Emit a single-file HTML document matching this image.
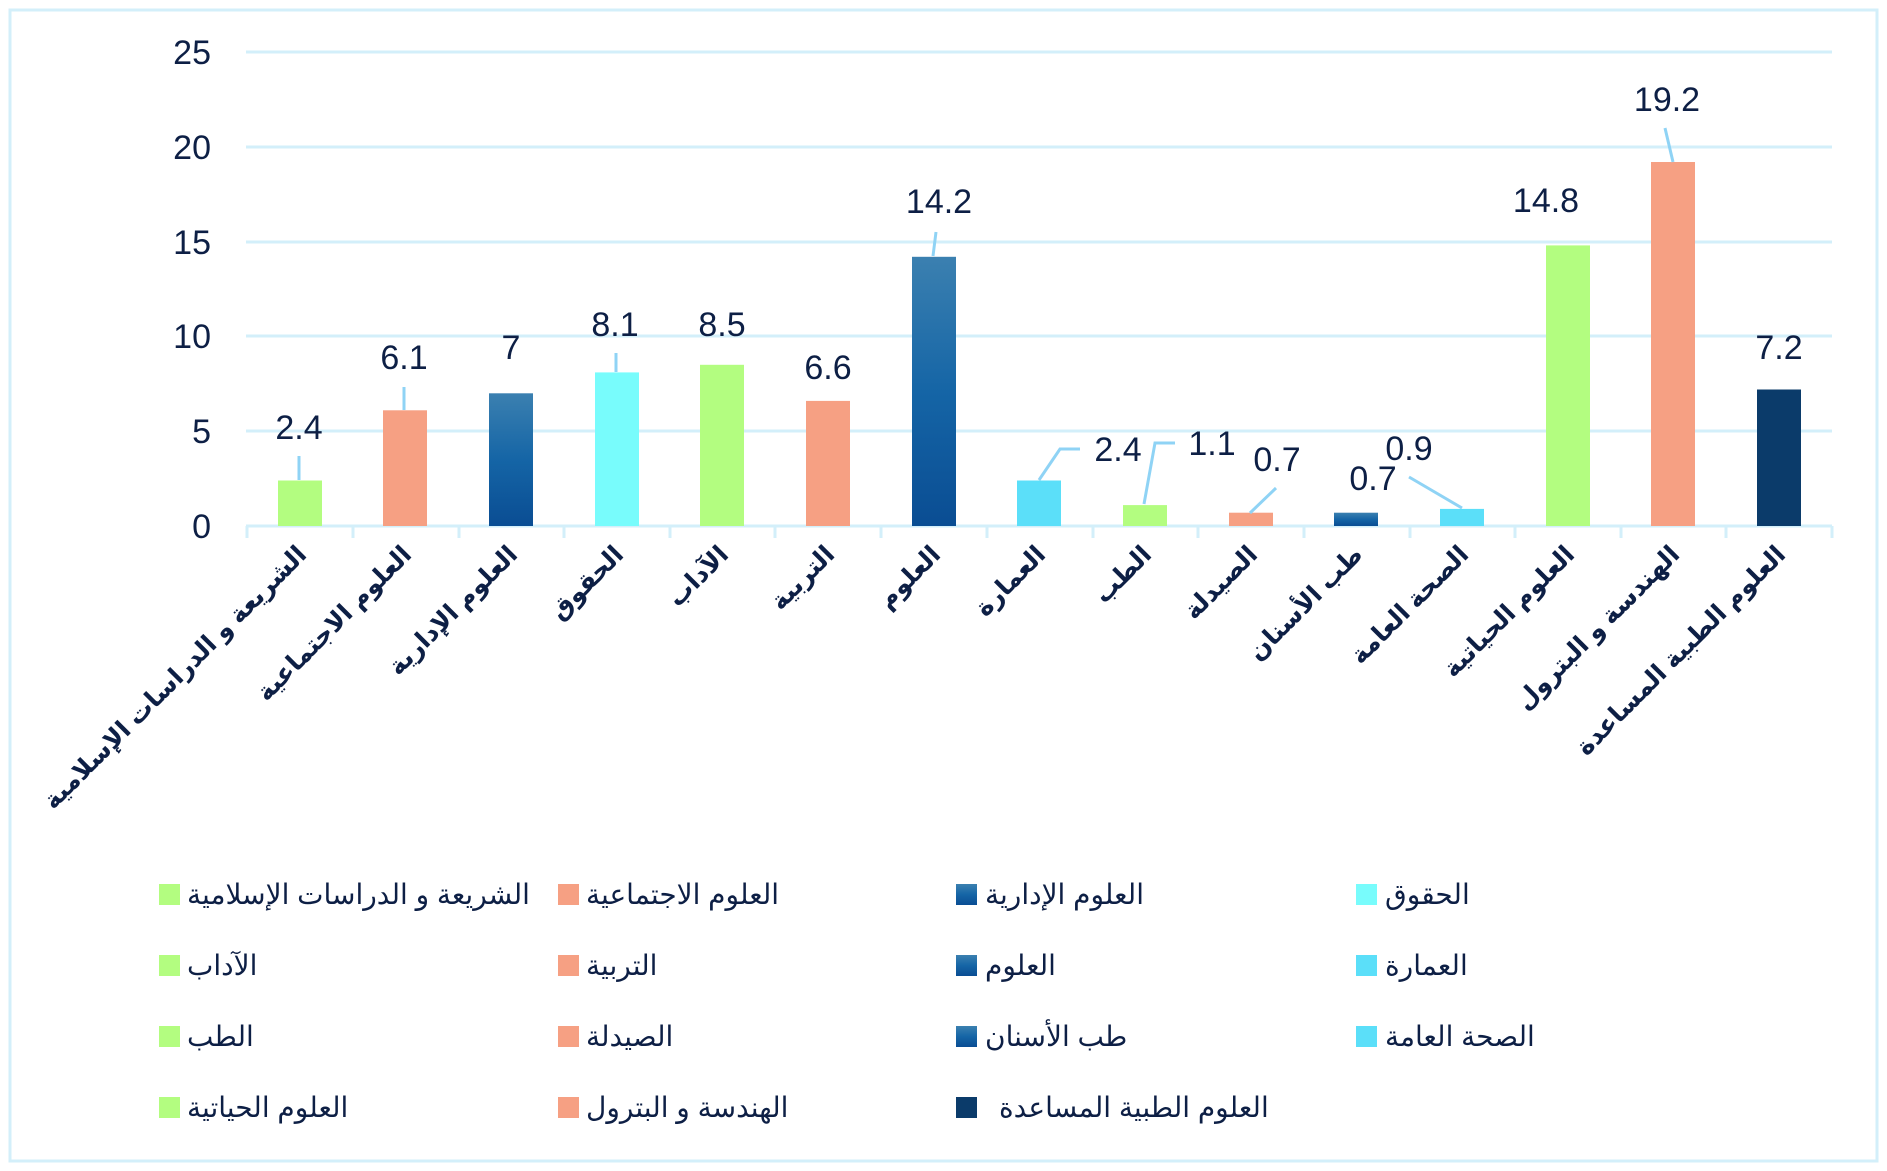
<!DOCTYPE html>
<html><head><meta charset="utf-8"><style>
html,body{margin:0;padding:0;background:#fff;}
svg{display:block;}
text{font-family:"Liberation Sans","DejaVu Sans",sans-serif;fill:#0d1f45;}
</style></head><body>
<svg width="1887" height="1171" viewBox="0 0 1887 1171" xmlns="http://www.w3.org/2000/svg">
<defs>
<linearGradient id="bg" x1="0" y1="0" x2="0" y2="1"><stop offset="0" stop-color="#3b80b0"/><stop offset="0.5" stop-color="#1565a6"/><stop offset="1" stop-color="#0a4d93"/></linearGradient>
</defs>
<rect x="10" y="10" width="1867" height="1151" fill="#fff" stroke="#d3effa" stroke-width="3"/>
<g stroke="#d3effa" stroke-width="3">
<line x1="246" y1="52" x2="1832" y2="52"/>
<line x1="246" y1="147" x2="1832" y2="147"/>
<line x1="246" y1="242" x2="1832" y2="242"/>
<line x1="246" y1="336" x2="1832" y2="336"/>
<line x1="246" y1="431" x2="1832" y2="431"/>
<line x1="246" y1="526" x2="1832" y2="526"/>
<line x1="247" y1="526" x2="247" y2="538"/><line x1="353" y1="526" x2="353" y2="538"/><line x1="459" y1="526" x2="459" y2="538"/><line x1="564" y1="526" x2="564" y2="538"/><line x1="670" y1="526" x2="670" y2="538"/><line x1="775" y1="526" x2="775" y2="538"/><line x1="881" y1="526" x2="881" y2="538"/><line x1="987" y1="526" x2="987" y2="538"/><line x1="1093" y1="526" x2="1093" y2="538"/><line x1="1198" y1="526" x2="1198" y2="538"/><line x1="1304" y1="526" x2="1304" y2="538"/><line x1="1410" y1="526" x2="1410" y2="538"/><line x1="1515" y1="526" x2="1515" y2="538"/><line x1="1621" y1="526" x2="1621" y2="538"/><line x1="1726" y1="526" x2="1726" y2="538"/><line x1="1832" y1="526" x2="1832" y2="538"/>
</g>
<g font-size="34" text-anchor="end">
<text x="211" y="64">25</text><text x="211" y="159">20</text><text x="211" y="254">15</text><text x="211" y="348">10</text><text x="211" y="443">5</text><text x="211" y="538">0</text>
</g>
<rect x="278" y="480.5" width="44" height="45.5" fill="#b3fd80"/>
<rect x="383" y="410.3" width="44" height="115.7" fill="#f6a083"/>
<rect x="489" y="393.3" width="44" height="132.7" fill="url(#bg)"/>
<rect x="595" y="372.4" width="44" height="153.6" fill="#78fcfc"/>
<rect x="700" y="364.8" width="44" height="161.2" fill="#b3fd80"/>
<rect x="806" y="400.9" width="44" height="125.1" fill="#f6a083"/>
<rect x="912" y="256.8" width="44" height="269.2" fill="url(#bg)"/>
<rect x="1017" y="480.5" width="44" height="45.5" fill="#5bdff9"/>
<rect x="1123" y="505.1" width="44" height="20.9" fill="#b3fd80"/>
<rect x="1229" y="512.7" width="44" height="13.3" fill="#f6a083"/>
<rect x="1334" y="512.7" width="44" height="13.3" fill="url(#bg)"/>
<rect x="1440" y="508.9" width="44" height="17.1" fill="#5bdff9"/>
<rect x="1546" y="245.4" width="44" height="280.6" fill="#b3fd80"/>
<rect x="1651" y="162" width="44" height="364" fill="#f6a083"/>
<rect x="1757" y="389.5" width="44" height="136.5" fill="#0b3b6a"/>
<g stroke="#8fd3f5" stroke-width="3" fill="none">
<line x1="299" y1="456" x2="299" y2="480"/>
<line x1="404" y1="387" x2="404" y2="410"/>
<line x1="616" y1="353" x2="616" y2="372"/>
<line x1="936" y1="232" x2="933" y2="256"/>
<polyline points="1039,480 1060,449 1080,449"/>
<polyline points="1144,504 1155,443 1175,443"/>
<line x1="1250" y1="513" x2="1276" y2="488"/>
<line x1="1409" y1="477" x2="1462" y2="508"/>
<line x1="1665" y1="128" x2="1673" y2="162"/>
</g>
<g font-size="34" text-anchor="middle" dominant-baseline="central">
<text x="299" y="428">2.4</text>
<text x="404" y="358">6.1</text>
<text x="511" y="348">7</text>
<text x="615" y="325">8.1</text>
<text x="722" y="325">8.5</text>
<text x="828" y="368">6.6</text>
<text x="939" y="202">14.2</text>
<text x="1118" y="450">2.4</text>
<text x="1212" y="444">1.1</text>
<text x="1277" y="460">0.7</text>
<text x="1373" y="479">0.7</text>
<text x="1409" y="449">0.9</text>
<text x="1546" y="201">14.8</text>
<text x="1667" y="100">19.2</text>
<text x="1779" y="348">7.2</text>
</g>
<g font-size="25" font-weight="bold" text-anchor="end">
<text transform="translate(308,556) rotate(-45)">الشريعة و الدراسات الإسلامية</text>
<text transform="translate(413,556) rotate(-45)">العلوم الاجتماعية</text>
<text transform="translate(519,556) rotate(-45)">العلوم الإدارية</text>
<text transform="translate(625,556) rotate(-45)">الحقوق</text>
<text transform="translate(730,556) rotate(-45)">الآداب</text>
<text transform="translate(836,556) rotate(-45)">التربية</text>
<text transform="translate(942,556) rotate(-45)">العلوم</text>
<text transform="translate(1047,556) rotate(-45)">العمارة</text>
<text transform="translate(1153,556) rotate(-45)">الطب</text>
<text transform="translate(1259,556) rotate(-45)">الصيدلة</text>
<text transform="translate(1364,556) rotate(-45)">طب الأسنان</text>
<text transform="translate(1470,556) rotate(-45)">الصحة العامة</text>
<text transform="translate(1576,556) rotate(-45)">العلوم الحياتية</text>
<text transform="translate(1681,556) rotate(-45)">الهندسة و البترول</text>
<text transform="translate(1787,556) rotate(-45)">العلوم الطبية المساعدة</text>
</g>
<g>
<rect x="159" y="884" width="21" height="21" fill="#b3fd80"/><rect x="558" y="884" width="21" height="21" fill="#f6a083"/><rect x="956" y="884" width="21" height="21" fill="url(#bg)"/><rect x="1356" y="884" width="21" height="21" fill="#78fcfc"/>
<rect x="159" y="955" width="21" height="21" fill="#b3fd80"/><rect x="558" y="955" width="21" height="21" fill="#f6a083"/><rect x="956" y="955" width="21" height="21" fill="url(#bg)"/><rect x="1356" y="955" width="21" height="21" fill="#5bdff9"/>
<rect x="159" y="1026" width="21" height="21" fill="#b3fd80"/><rect x="558" y="1026" width="21" height="21" fill="#f6a083"/><rect x="956" y="1026" width="21" height="21" fill="url(#bg)"/><rect x="1356" y="1026" width="21" height="21" fill="#5bdff9"/>
<rect x="159" y="1097" width="21" height="21" fill="#b3fd80"/><rect x="558" y="1097" width="21" height="21" fill="#f6a083"/><rect x="956" y="1097" width="21" height="21" fill="#0b3b6a"/>
</g>
<g font-size="28">
<text x="187" y="904">الشريعة و الدراسات الإسلامية</text>
<text x="586" y="904">العلوم الاجتماعية</text>
<text x="985" y="904">العلوم الإدارية</text>
<text x="1385" y="904">الحقوق</text>
<text x="187" y="975">الآداب</text>
<text x="586" y="975">التربية</text>
<text x="985" y="975">العلوم</text>
<text x="1385" y="975">العمارة</text>
<text x="187" y="1046">الطب</text>
<text x="586" y="1046">الصيدلة</text>
<text x="985" y="1046">طب الأسنان</text>
<text x="1385" y="1046">الصحة العامة</text>
<text x="187" y="1117">العلوم الحياتية</text>
<text x="586" y="1117">الهندسة و البترول</text>
<text x="999" y="1117">العلوم الطبية المساعدة</text>
</g>
</svg>
</body></html>
